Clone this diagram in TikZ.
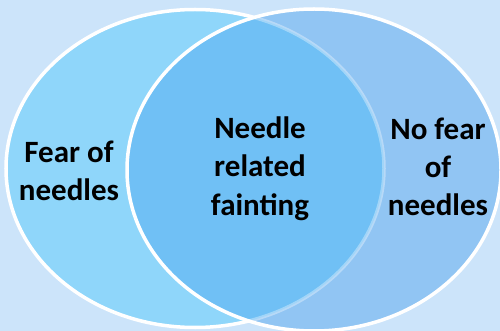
\documentclass[tikz,border=0pt]{standalone}
\usepackage{fontspec}
\setmainfont{Carlito}
\definecolor{bgc}{HTML}{CCE4FA}
\definecolor{leftc}{HTML}{8FD6FA}
\definecolor{midc}{HTML}{70C0F5}
\definecolor{rightc}{HTML}{91C5F3}
\begin{document}
\begin{tikzpicture}[x=1pt,y=-1pt,
  rim/.style={draw=white,line width=3.5pt},
  lbl/.style={align=center,font=\bfseries\fontsize{31}{38.3}\selectfont,inner sep=0pt,text=black}]
\useasboundingbox (0,0) rectangle (500,331);
\fill[bgc] (0,0) rectangle (500,331);
% left set
\fill[leftc] (195,168.5) ellipse [x radius=189,y radius=159];
\draw[rim] (195,168.5) ellipse [x radius=189,y radius=159];
% right set
\fill[rightc] (314,170) ellipse [x radius=187,y radius=161];
% intersection
\begin{scope}
  \clip (195,168.5) ellipse [x radius=189,y radius=159];
  \fill[midc] (314,170) ellipse [x radius=187,y radius=161];
\end{scope}
% faint left rim seen through the right set
\begin{scope}
  \clip (314,170) ellipse [x radius=187,y radius=161];
  \draw[draw=white,draw opacity=0.35,line width=3.5pt] (195,168.5) ellipse [x radius=189,y radius=159];
\end{scope}
\draw[rim] (314,170) ellipse [x radius=187,y radius=161];
\node[lbl] (fear) at (69,171) {Fear of\\needles};
\node[lbl] (both) at (260,168.5) {Needle\\related\\fainting};
\node[lbl] (nofear) at (438,167) {No fear\\of\\needles};
\end{tikzpicture}
\end{document}
